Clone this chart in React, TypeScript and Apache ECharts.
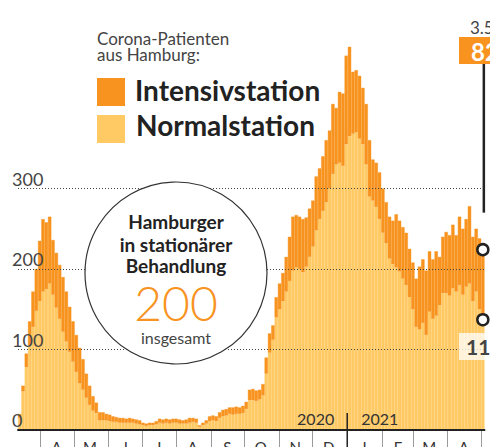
import React, { useEffect, useRef } from 'react';
import * as echarts from 'echarts';

// Daily axis starts 12 March 2020 and ends 3 May 2021 (418 days); bars are 3-day samples
const START_UTC = Date.UTC(2020, 2, 12);
const DAY_COUNT = 418;
const SAMPLE_STEP = 3;

// Normalstation (patients on normal wards), one value per 3 days
const normalstation = [
  15, 48, 78, 105, 128, 148, 160, 172, 175, 182, 168, 152, 138, 122, 110, 97, 85, 72, 58, 50,
  40, 31, 24, 21, 12, 12, 12, 11, 10, 10, 9, 9, 9, 9, 9, 8, 7, 6, 5, 6,
  6, 7, 9, 8, 9, 8, 9, 9, 8, 8, 8, 9, 10, 9, 4, 6, 8, 11, 12, 11,
  15, 17, 18, 20, 19, 20, 20, 21, 26, 37, 37, 36, 38, 43, 70, 96, 112, 140, 150, 160,
  172, 185, 198, 202, 200, 196, 203, 215, 228, 248, 262, 272, 283, 300, 318, 330, 332, 328, 355, 365,
  368, 370, 362, 355, 330, 290, 285, 277, 262, 245, 232, 213, 206, 202, 197, 188, 180, 165, 150, 128,
  125, 133, 118, 147, 138, 142, 155, 170, 170, 167, 176, 172, 180, 168, 178, 182, 160, 172, 150, 137,
];

// Intensivstation (ICU patients), stacked on top
const intensivstation = [
  5, 7, 17, 30, 44, 52, 75, 90, 83, 83, 68, 68, 67, 68, 62, 56, 50, 46, 44, 38,
  30, 24, 18, 13, 10, 10, 8, 8, 7, 6, 6, 6, 5, 6, 5, 5, 5, 3, 3, 3,
  3, 4, 5, 5, 5, 5, 5, 5, 5, 4, 5, 6, 5, 5, 2, 3, 4, 6, 6, 6,
  7, 8, 8, 8, 9, 9, 8, 9, 9, 13, 14, 13, 12, 14, 20, 24, 18, 25, 32, 35,
  43, 55, 67, 65, 65, 66, 61, 60, 57, 67, 63, 68, 77, 72, 87, 70, 88, 90, 110, 111,
  77, 77, 78, 70, 75, 70, 51, 55, 58, 55, 51, 52, 54, 66, 63, 64, 65, 60, 58, 60,
  78, 79, 80, 75, 74, 80, 60, 70, 76, 75, 79, 70, 85, 82, 84, 96, 80, 78, 88, 87,
];

const yTickValues = [0, 100, 200, 300];
const monthLetters = ['J', 'F', 'M', 'A', 'M', 'J', 'J', 'A', 'S', 'O', 'N', 'D'];
const yearLabels = ['2020', '2021'];
const legendTitle = ['Corona-Patienten', 'aus Hamburg:'];
const seriesNames = ['Intensivstation', 'Normalstation'];
const circleLines = ['Hamburger', 'in stationärer', 'Behandlung'];
const latestDate = '3.5';
const latestIntensiv = 82;
const latestNormal = 118;
const latestTotal = 200;

const ORANGE = '#F7931E';
const YELLOW = '#FFC964';
const FONT = 'Lato, "Open Sans", sans-serif';

export default function App() {
  const ref = useRef<HTMLDivElement>(null);

  useEffect(() => {
    document.body.style.margin = '0';
    const chart = echarts.init(ref.current!, null, { renderer: 'svg' });

    const EXTRA_DAYS = 22; // tick axis runs past the canvas edge
    const days = Array.from({ length: DAY_COUNT + EXTRA_DAYS }, (_, d) => new Date(START_UTC + d * 86400000));
    const dayCats = days.map((d) => d.toISOString().slice(0, 10));
    const sampleCats = normalstation.map((_, i) =>
      new Date(START_UTC + (i * SAMPLE_STEP + 1) * 86400000).toISOString().slice(0, 10)
    );

    const gridLeft = 18;
    const gridRightEdge = 484.5;
    const gridWidth = gridRightEdge - gridLeft;
    const dayWidth = gridWidth / DAY_COUNT;

    const lastIdx = normalstation.length - 1;
    const lastN = normalstation[lastIdx];
    const lastT = lastN + intensivstation[lastIdx];

    const option: any = {
      animation: false,
      textStyle: { fontFamily: FONT },
      grid: [
        { left: gridLeft, width: gridWidth, top: 27.5, bottom: 17, containLabel: false, outerBoundsMode: 'none' },
        { left: gridLeft, width: dayWidth * days.length, top: 27.5, bottom: 17, containLabel: false, outerBoundsMode: 'none' },
      ],
      xAxis: [
        {
          type: 'category',
          gridIndex: 0,
          data: sampleCats,
          boundaryGap: true,
          axisLine: { show: true, lineStyle: { color: '#222', width: 2 } },
          axisTick: { show: false },
          axisLabel: { show: false },
          splitLine: { show: false },
          z: 4,
        },
        {
          type: 'category',
          gridIndex: 1,
          data: dayCats,
          boundaryGap: true,
          axisLine: { show: false },
          axisTick: {
            show: true,
            interval: (i: number) => days[i].getUTCDate() === 1,
            length: 17,
            lineStyle: { color: '#9a9a9a', width: 1 },
          },
          axisLabel: {
            show: true,
            interval: (i: number) => i < DAY_COUNT && days[i].getUTCDate() === 15 && i >= 14,
            formatter: (_v: string, i: number) => monthLetters[days[i].getUTCMonth()],
            fontSize: 15,
            color: '#333',
            margin: 9,
            fontFamily: FONT,
          },
          splitLine: { show: false },
        },
      ],
      yAxis: [
        {
          type: 'value',
          gridIndex: 0,
          min: 0,
          max: 500,
          interval: 100,
          z: 3,
          axisLine: { show: false },
          axisTick: { show: false },
          axisLabel: {
            formatter: (v: number) => (yTickValues.includes(v) ? String(v) : ''),
            align: 'left',
            verticalAlign: 'bottom',
            margin: 6,
            fontSize: 18,
            color: '#444',
            fontFamily: FONT,
            padding: [0, 0, 1, 0],
          },
          splitLine: {
            show: true,
            lineStyle: {
              color: ['rgba(0,0,0,0)', '#444', '#444', '#444', 'rgba(0,0,0,0)', 'rgba(0,0,0,0)'],
              type: [1, 2],
              width: 1,
            },
          },
        },
        { type: 'value', gridIndex: 1, min: 0, max: 1, show: false, splitLine: { show: false } },
      ],
      series: [
        {
          name: seriesNames[1],
          type: 'bar',
          stack: 'total',
          xAxisIndex: 0,
          yAxisIndex: 0,
          data: normalstation,
          barCategoryGap: '0%',
          itemStyle: { color: YELLOW, borderColor: YELLOW, borderWidth: 0.4 },
        },
        {
          name: seriesNames[0],
          type: 'bar',
          stack: 'total',
          xAxisIndex: 0,
          yAxisIndex: 0,
          data: intensivstation,
          barCategoryGap: '0%',
          itemStyle: { color: ORANGE, borderColor: ORANGE, borderWidth: 0.4 },
        },
        {
          type: 'scatter',
          xAxisIndex: 0,
          yAxisIndex: 0,
          data: [
            [lastIdx, lastN],
            [lastIdx, lastT],
          ],
          symbol: 'circle',
          symbolSize: 11,
          itemStyle: { color: '#fff', borderColor: '#222', borderWidth: 2.5, opacity: 1 },
          z: 6,
        },
      ],
    };

    chart.setOption(option);

    const janIdx = days.findIndex((d) => d.getUTCFullYear() === 2021);
    const a = chart.convertToPixel({ xAxisIndex: 1 }, janIdx - 1) as number;
    const b = chart.convertToPixel({ xAxisIndex: 1 }, janIdx) as number;
    const yearX = (a + b) / 2;
    const lastX = chart.convertToPixel({ xAxisIndex: 0 }, lastIdx) as number;
    const lineBottom = chart.convertToPixel({ yAxisIndex: 0 }, 270) as number;

    const cx = 176;
    const cy = 273;

    chart.setOption({
      graphic: [
        // legend
        { type: 'text', z: 20, style: { text: legendTitle[0], x: 97, y: 38, font: `400 17px ${FONT}`, fill: '#444', verticalAlign: 'middle' } },
        { type: 'text', z: 20, style: { text: legendTitle[1], x: 97, y: 54, font: `400 17px ${FONT}`, fill: '#444', verticalAlign: 'middle' } },
        { type: 'rect', z: 20, shape: { x: 97, y: 78, width: 28, height: 28 }, style: { fill: ORANGE } },
        { type: 'rect', z: 20, shape: { x: 97, y: 115, width: 28, height: 28 }, style: { fill: YELLOW } },
        { type: 'text', z: 20, style: { text: seriesNames[0], x: 135, y: 90, font: `700 28px ${FONT}`, fill: '#222', verticalAlign: 'middle' } },
        { type: 'text', z: 20, style: { text: seriesNames[1], x: 136, y: 125, font: `700 28px ${FONT}`, fill: '#222', verticalAlign: 'middle' } },
        // circle
        { type: 'circle', z: 20, shape: { cx, cy, r: 91 }, style: { fill: '#fff', stroke: '#333', lineWidth: 1.2 } },
        { type: 'text', z: 21, style: { text: circleLines[0], x: cx, y: 221, font: `700 19px ${FONT}`, fill: '#222', align: 'center', verticalAlign: 'middle' } },
        { type: 'text', z: 21, style: { text: circleLines[1], x: cx, y: 244, font: `700 19px ${FONT}`, fill: '#222', align: 'center', verticalAlign: 'middle' } },
        { type: 'text', z: 21, style: { text: circleLines[2], x: cx, y: 265, font: `700 19px ${FONT}`, fill: '#222', align: 'center', verticalAlign: 'middle' } },
        { type: 'text', z: 21, style: { text: String(latestTotal), x: cx, y: 302, font: `300 48px ${FONT}`, fill: ORANGE, align: 'center', verticalAlign: 'middle' } },
        { type: 'text', z: 21, style: { text: 'insgesamt', x: cx, y: 337, font: `400 16px ${FONT}`, fill: '#444', align: 'center', verticalAlign: 'middle' } },
        // year divider
        { type: 'line', z: 20, shape: { x1: yearX, y1: 413, x2: yearX, y2: 447 }, style: { stroke: '#222', lineWidth: 1.5 } },
        { type: 'text', z: 20, style: { text: yearLabels[0], x: yearX - 13, y: 418, font: `400 16px ${FONT}`, fill: '#333', align: 'right', verticalAlign: 'middle' } },
        { type: 'text', z: 20, style: { text: yearLabels[1], x: yearX + 14, y: 418, font: `400 16px ${FONT}`, fill: '#333', align: 'left', verticalAlign: 'middle' } },
        // latest value annotation
        { type: 'text', z: 20, style: { text: latestDate, x: 470, y: 27, font: `400 17px ${FONT}`, fill: '#444', verticalAlign: 'middle' } },
        { type: 'rect', z: 20, shape: { x: 459, y: 37, width: 40, height: 27 }, style: { fill: ORANGE } },
        { type: 'text', z: 21, style: { text: String(latestIntensiv), x: 471, y: 51, font: `700 24px ${FONT}`, fill: '#fff', verticalAlign: 'middle' } },
        { type: 'line', z: 20, shape: { x1: lastX + 1, y1: 64, x2: lastX + 1, y2: lineBottom }, style: { stroke: '#222', lineWidth: 2.5 } },
        { type: 'rect', z: 20, shape: { x: 459, y: 333, width: 40, height: 27 }, style: { fill: 'rgba(255,255,255,0.75)' } },
        { type: 'text', z: 21, style: { text: String(latestNormal), x: 466, y: 346, font: `700 21px ${FONT}`, fill: '#444', verticalAlign: 'middle' } },
      ],
    });

    return () => chart.dispose();
  }, []);

  return <div ref={ref} style={{ width: 490, height: 447 }} />;
}
